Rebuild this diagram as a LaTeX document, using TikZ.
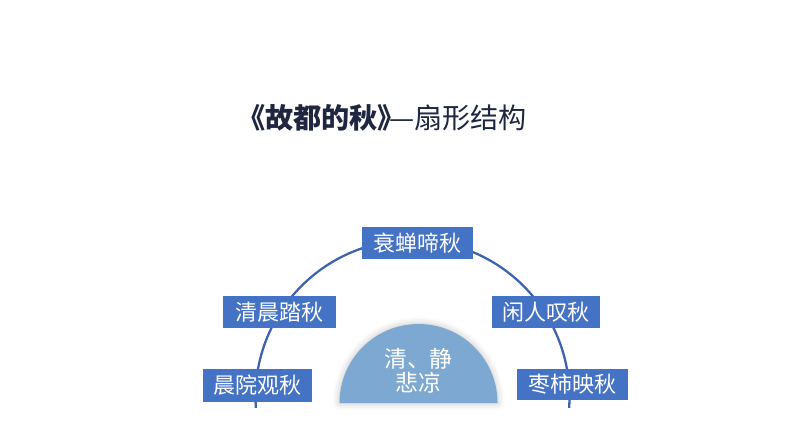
\documentclass[tikz,border=0pt]{standalone}
\usepackage{fontspec}
\newfontfamily\cjk{Noto Sans CJK SC}
\usepackage{tikz}
\usetikzlibrary{positioning, calc, shadows.blur}
\definecolor{boxblue}{HTML}{4472C4}
\definecolor{arcblue}{HTML}{3F62B0}
\definecolor{fanblue}{HTML}{7CA8D1}
\definecolor{titlenavy}{HTML}{1F2740}

\tikzset{
  stagebox/.style={fill=boxblue, text=white, inner sep=0pt, minimum height=6.4mm,
    font=\cjk\fontsize{12.5}{14}\selectfont},
}

\begin{document}
\begin{tikzpicture}[x=0.2mm, y=-0.2mm]
  \useasboundingbox (0,0) rectangle (794,447);
  \pgfmathsetmacro{\cx}{412.5}
  \pgfmathsetmacro{\cy}{397}
  \pgfmathsetmacro{\rad}{157}

  % title
  \node[font=\cjk\fontsize{16}{18}\selectfont, text=titlenavy] (title) at (382,118)
    {\bfseries《故都的秋》\kern-0.6em\mdseries —扇形结构};

  % the fan's arc
  \draw[arcblue, line width=1.3pt] ($(\cx,\cy)+(176:\rad)$) arc[start angle=176, end angle=364, radius=\rad];

  % the five scenes
  \node[stagebox, minimum width=22.2mm] (chan) at (417.5,243) {衰蝉啼秋};
  \node[stagebox, minimum width=22.6mm] (qing) at (279.5,312) {清晨踏秋};
  \node[stagebox, minimum width=21.8mm, minimum height=6.6mm] (yuan) at (257.5,385.5) {晨院观秋};
  \node[stagebox, minimum width=21.6mm] (xian) at (546,312) {闲人叹秋};
  \node[stagebox, minimum width=22.2mm, minimum height=6.2mm] (zao) at (572.5,384.5) {枣柿映秋};

  % half disc in the middle
  \fill[fanblue, blur shadow={shadow xshift=0pt, shadow yshift=0pt, shadow blur radius=4pt, shadow opacity=25}]
    (339.5,403) arc[start angle=180, end angle=360, radius=79] -- cycle;
  \node[text=white, align=center, font=\cjk\fontsize{13}{13.5}\selectfont] (mood) at (418.5,371)
    {清、静\\悲凉};
\end{tikzpicture}
\end{document}
